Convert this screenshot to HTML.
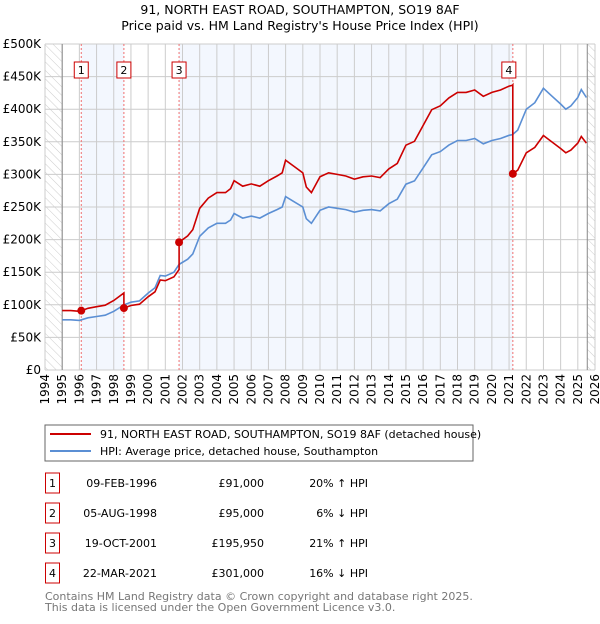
<!DOCTYPE html>
<html><head><meta charset="utf-8">
<style>
body{margin:0;background:#fff;font-family:"DejaVu Sans","Liberation Sans",sans-serif;}
svg text{font-family:"DejaVu Sans","Liberation Sans",sans-serif;}
</style></head>
<body>
<svg id="c" width="600" height="620" xmlns="http://www.w3.org/2000/svg">
<defs>
<pattern id="hatch" width="6" height="6" patternUnits="userSpaceOnUse" patternTransform="rotate(-45)">
<line x1="0" y1="0" x2="0" y2="6" stroke="#ccc" stroke-width="1"/>
</pattern>
</defs>
<text x="300" y="14" text-anchor="middle" font-size="12.5" fill="#000">91, NORTH EAST ROAD, SOUTHAMPTON, SO19 8AF</text>
<text x="300" y="30" text-anchor="middle" font-size="12.5" fill="#000">Price paid vs. HM Land Registry's House Price Index (HPI)</text>
<g id="plot"></g>
<rect x="45" y="425" width="428" height="36" fill="#fff" stroke="#666"/>
<line x1="50" y1="434" x2="91" y2="434" stroke="#cc0000" stroke-width="2"/>
<text x="100" y="438" font-size="11">91, NORTH EAST ROAD, SOUTHAMPTON, SO19 8AF (detached house)</text>
<line x1="50" y1="451" x2="91" y2="451" stroke="#5b8fd4" stroke-width="2"/>
<text x="100" y="455" font-size="11">HPI: Average price, detached house, Southampton</text>
<g id="tbl" font-size="11"></g>
<text x="45" y="600" font-size="11" fill="#777">Contains HM Land Registry data © Crown copyright and database right 2025.</text>
<text x="45" y="611" font-size="11" fill="#777">This data is licensed under the Open Government Licence v3.0.</text>
</svg>
<script>
const hpiYears=[1995,1995.5,1996,1996.5,1997,1997.5,1998,1998.6,1999,1999.5,2000,2000.4,2000.7,2001,2001.5,2001.8,2002.3,2002.6,2003,2003.5,2004,2004.5,2004.8,2005,2005.5,2006,2006.5,2007,2007.5,2007.8,2008,2008.5,2009,2009.2,2009.5,2010,2010.5,2011,2011.5,2012,2012.5,2013,2013.5,2014,2014.5,2015,2015.5,2016,2016.5,2017,2017.5,2018,2018.5,2019,2019.5,2020,2020.5,2021,2021.2,2021.5,2022,2022.5,2023,2023.5,2024,2024.3,2024.6,2025,2025.2,2025.5];
const hpiValues=[77,77,76,80,82,84,90,100,104,106,118,126,145,144,150,162,170,178,205,218,225,225,230,240,233,236,233,240,246,250,266,258,250,232,225,245,250,248,246,242,245,246,244,255,262,285,290,310,330,335,345,352,352,355,347,352,355,360,361,368,400,410,432,420,408,400,405,418,430,418];
const saleYears=[1996.11,1998.59,2001.8,2021.22];
const salePrices=[91,95,195.95,301];
const saleLabels=["1","2","3","4"];
const saleDates=["09-FEB-1996","05-AUG-1998","19-OCT-2001","22-MAR-2021"];
const salePriceText=["£91,000","£95,000","£195,950","£301,000"];
const salePctText=["20% ↑ HPI","6% ↓ HPI","21% ↑ HPI","16% ↓ HPI"];
const yTicks=[0,50,100,150,200,250,300,350,400,450,500];
const yTickLabels=["£0","£50K","£100K","£150K","£200K","£250K","£300K","£350K","£400K","£450K","£500K"];

const X0=45,X1=595,Y0=370,Y1=44,YR0=1994,YR1=2026,VMAX=500;
const xs=y=>X0+(y-YR0)/(YR1-YR0)*(X1-X0);
const ys=v=>Y0-v/VMAX*(Y0-Y1);
const NS="http://www.w3.org/2000/svg";
function mk(tag,attrs,parent){const e=document.createElementNS(NS,tag);for(const k in attrs)e.setAttribute(k,attrs[k]);parent.appendChild(e);return e;}
function hpiAt(t){if(t<=hpiYears[0])return hpiValues[0];for(let i=1;i<hpiYears.length;i++){if(t<=hpiYears[i]){const f=(t-hpiYears[i-1])/(hpiYears[i]-hpiYears[i-1]);return hpiValues[i-1]+f*(hpiValues[i]-hpiValues[i-1]);}}return hpiValues[hpiValues.length-1];}
const g=document.getElementById('plot');
// shading
const bands=[[saleYears[0],saleYears[1]],[saleYears[2],saleYears[3]]];
bands.forEach((b,i)=>{const r=mk('rect',{x:xs(b[0]),y:Y1,width:xs(b[1])-xs(b[0]),height:Y0-Y1,fill:'#eef3fd',opacity:0.7},g);

});
// hatch
const h1=mk('rect',{x:X0,y:Y1,width:xs(1995)-X0,height:Y0-Y1,fill:'url(#hatch)'},g);


const h2=mk('rect',{x:xs(2025.55),y:Y1,width:X1-xs(2025.55),height:Y0-Y1,fill:'url(#hatch)'},g);


// grid
for(let yr=YR0;yr<=YR1;yr++){const l=mk('line',{x1:xs(yr),x2:xs(yr),y1:Y1,y2:Y0,stroke:'#ccc','stroke-width':1},g);


const t=mk('text',{x:0,y:0,'font-size':12,'text-anchor':'end',transform:`translate(${xs(yr)+4},${Y0+4}) rotate(-90)`},g);t.textContent=yr;

}
yTicks.forEach((v,i)=>{const l=mk('line',{x1:X0,x2:X1,y1:ys(v),y2:ys(v),stroke:'#ccc','stroke-width':1},g);


const t=mk('text',{x:X0-4,y:ys(v)+4,'font-size':12,'text-anchor':'end'},g);t.textContent=yTickLabels[i];

});
[1995,2025.55].forEach(yr=>{const l=mk('line',{x1:xs(yr),x2:xs(yr),y1:Y1,y2:Y0,stroke:'#888','stroke-width':1},g);

});
// sale markers lines
saleYears.forEach((sy,i)=>{const l=mk('line',{x1:xs(sy),x2:xs(sy),y1:Y1,y2:Y0,stroke:'#f07070','stroke-width':1,'stroke-dasharray':'2,2'},g);


const bx=xs(sy)-(i==3?4:0)-7;
const r=mk('rect',{x:bx,y:62,width:14,height:16,fill:'#fff',stroke:'#cc0000'},g);


const t=mk('text',{x:bx+7,y:74,'font-size':11,'text-anchor':'middle'},g);t.textContent=saleLabels[i];

});
// HPI line
const hp=hpiYears.map((y,i)=>xs(y).toFixed(1)+','+ys(hpiValues[i]).toFixed(1)).join(' ');
const hl=mk('polyline',{points:hp,fill:'none',stroke:'#5b8fd4','stroke-width':1.6},g);


// property line: HPI scaled through each sale
const ratios=saleYears.map((s,i)=>salePrices[i]/hpiAt(s));
const segRatio=t=>{let r=ratios[0]*1.0;for(let i=0;i<saleYears.length;i++){if(t>=saleYears[i])r=ratios[i];}return r;};
const pts=[];
const tmarks=hpiYears.concat(saleYears).sort((a,b)=>a-b);
for(const t of tmarks){for(let i=0;i<saleYears.length;i++){if(Math.abs(t-saleYears[i])<1e-9){const prev=i==0?ratios[0]:ratios[i-1];pts.push([t,hpiAt(t)*prev]);}}pts.push([t,hpiAt(t)*segRatio(t)]);}
const pl=mk('polyline',{points:pts.map(p=>xs(p[0]).toFixed(1)+','+ys(p[1]).toFixed(1)).join(' '),fill:'none',stroke:'#cc0000','stroke-width':1.6},g);


saleYears.forEach((sy,i)=>{const c=mk('circle',{cx:xs(sy),cy:ys(salePrices[i]),r:4,fill:'#cc0000'},g);

});
// table
const tb=document.getElementById('tbl');
saleLabels.forEach((lb,i)=>{const cy=483+i*30;
const r=mk('rect',{x:45.5,y:cy-10,width:14,height:20,fill:'#fff',stroke:'#cc0000'},tb);


const a=mk('text',{x:52.5,y:cy+4,'text-anchor':'middle'},tb);a.textContent=lb;


const d=mk('text',{x:157,y:cy+4,'text-anchor':'end'},tb);d.textContent=saleDates[i];


const p=mk('text',{x:264,y:cy+4,'text-anchor':'end'},tb);p.textContent=salePriceText[i];


const q=mk('text',{x:368,y:cy+4,'text-anchor':'end'},tb);q.textContent=salePctText[i];

});
</script>
</body></html>
